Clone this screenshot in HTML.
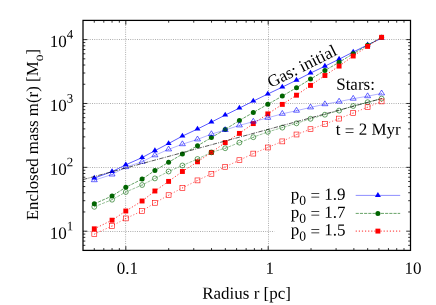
<!DOCTYPE html>
<html><head><meta charset="utf-8"><title>Enclosed mass</title>
<style>html,body{margin:0;padding:0;background:#fff;}svg{display:block;will-change:transform;}text{font-family:"Liberation Serif",serif;fill:#000;text-rendering:geometricPrecision;}</style>
</head><body>
<svg width="436" height="305" viewBox="0 0 436 305">
<rect width="436" height="305" fill="#fff"/>
<g stroke="#939393" stroke-width="0.8" stroke-dasharray="0.95 1.3" fill="none">
<line x1="125.6" y1="20.4" x2="125.6" y2="250.4"/>
<line x1="268.5" y1="20.4" x2="268.5" y2="250.4"/>
<line x1="83.0" y1="231.50" x2="274.5" y2="231.50"/>
<line x1="83.0" y1="167.50" x2="410.5" y2="167.50"/>
<line x1="83.0" y1="103.50" x2="410.5" y2="103.50"/>
<line x1="83.0" y1="39.50" x2="410.5" y2="39.50"/>
</g>
<g stroke="#000" stroke-width="0.8" fill="none">
<line x1="94.27" y1="250.4" x2="94.27" y2="248.1"/>
<line x1="94.27" y1="20.4" x2="94.27" y2="22.7"/>
<line x1="103.80" y1="250.4" x2="103.80" y2="248.1"/>
<line x1="103.80" y1="20.4" x2="103.80" y2="22.7"/>
<line x1="112.05" y1="250.4" x2="112.05" y2="248.1"/>
<line x1="112.05" y1="20.4" x2="112.05" y2="22.7"/>
<line x1="119.33" y1="250.4" x2="119.33" y2="248.1"/>
<line x1="119.33" y1="20.4" x2="119.33" y2="22.7"/>
<line x1="125.84" y1="250.4" x2="125.84" y2="246.1"/>
<line x1="125.84" y1="20.4" x2="125.84" y2="24.7"/>
<line x1="168.69" y1="250.4" x2="168.69" y2="248.1"/>
<line x1="168.69" y1="20.4" x2="168.69" y2="22.7"/>
<line x1="193.75" y1="250.4" x2="193.75" y2="248.1"/>
<line x1="193.75" y1="20.4" x2="193.75" y2="22.7"/>
<line x1="211.53" y1="250.4" x2="211.53" y2="248.1"/>
<line x1="211.53" y1="20.4" x2="211.53" y2="22.7"/>
<line x1="225.33" y1="250.4" x2="225.33" y2="248.1"/>
<line x1="225.33" y1="20.4" x2="225.33" y2="22.7"/>
<line x1="236.60" y1="250.4" x2="236.60" y2="248.1"/>
<line x1="236.60" y1="20.4" x2="236.60" y2="22.7"/>
<line x1="246.13" y1="250.4" x2="246.13" y2="248.1"/>
<line x1="246.13" y1="20.4" x2="246.13" y2="22.7"/>
<line x1="254.38" y1="250.4" x2="254.38" y2="248.1"/>
<line x1="254.38" y1="20.4" x2="254.38" y2="22.7"/>
<line x1="261.66" y1="250.4" x2="261.66" y2="248.1"/>
<line x1="261.66" y1="20.4" x2="261.66" y2="22.7"/>
<line x1="268.17" y1="250.4" x2="268.17" y2="246.1"/>
<line x1="268.17" y1="20.4" x2="268.17" y2="24.7"/>
<line x1="311.02" y1="250.4" x2="311.02" y2="248.1"/>
<line x1="311.02" y1="20.4" x2="311.02" y2="22.7"/>
<line x1="336.08" y1="250.4" x2="336.08" y2="248.1"/>
<line x1="336.08" y1="20.4" x2="336.08" y2="22.7"/>
<line x1="353.86" y1="250.4" x2="353.86" y2="248.1"/>
<line x1="353.86" y1="20.4" x2="353.86" y2="22.7"/>
<line x1="367.66" y1="250.4" x2="367.66" y2="248.1"/>
<line x1="367.66" y1="20.4" x2="367.66" y2="22.7"/>
<line x1="378.92" y1="250.4" x2="378.92" y2="248.1"/>
<line x1="378.92" y1="20.4" x2="378.92" y2="22.7"/>
<line x1="388.45" y1="250.4" x2="388.45" y2="248.1"/>
<line x1="388.45" y1="20.4" x2="388.45" y2="22.7"/>
<line x1="396.71" y1="250.4" x2="396.71" y2="248.1"/>
<line x1="396.71" y1="20.4" x2="396.71" y2="22.7"/>
<line x1="403.99" y1="250.4" x2="403.99" y2="248.1"/>
<line x1="403.99" y1="20.4" x2="403.99" y2="22.7"/>
<line x1="83.0" y1="245.34" x2="85.3" y2="245.34"/>
<line x1="410.5" y1="245.34" x2="408.2" y2="245.34"/>
<line x1="83.0" y1="241.07" x2="85.3" y2="241.07"/>
<line x1="410.5" y1="241.07" x2="408.2" y2="241.07"/>
<line x1="83.0" y1="237.37" x2="85.3" y2="237.37"/>
<line x1="410.5" y1="237.37" x2="408.2" y2="237.37"/>
<line x1="83.0" y1="234.10" x2="85.3" y2="234.10"/>
<line x1="410.5" y1="234.10" x2="408.2" y2="234.10"/>
<line x1="83.0" y1="231.18" x2="87.3" y2="231.18"/>
<line x1="410.5" y1="231.18" x2="406.2" y2="231.18"/>
<line x1="83.0" y1="211.96" x2="85.3" y2="211.96"/>
<line x1="410.5" y1="211.96" x2="408.2" y2="211.96"/>
<line x1="83.0" y1="200.71" x2="85.3" y2="200.71"/>
<line x1="410.5" y1="200.71" x2="408.2" y2="200.71"/>
<line x1="83.0" y1="192.74" x2="85.3" y2="192.74"/>
<line x1="410.5" y1="192.74" x2="408.2" y2="192.74"/>
<line x1="83.0" y1="186.55" x2="85.3" y2="186.55"/>
<line x1="410.5" y1="186.55" x2="408.2" y2="186.55"/>
<line x1="83.0" y1="181.49" x2="85.3" y2="181.49"/>
<line x1="410.5" y1="181.49" x2="408.2" y2="181.49"/>
<line x1="83.0" y1="177.22" x2="85.3" y2="177.22"/>
<line x1="410.5" y1="177.22" x2="408.2" y2="177.22"/>
<line x1="83.0" y1="173.51" x2="85.3" y2="173.51"/>
<line x1="410.5" y1="173.51" x2="408.2" y2="173.51"/>
<line x1="83.0" y1="170.25" x2="85.3" y2="170.25"/>
<line x1="410.5" y1="170.25" x2="408.2" y2="170.25"/>
<line x1="83.0" y1="167.33" x2="87.3" y2="167.33"/>
<line x1="410.5" y1="167.33" x2="406.2" y2="167.33"/>
<line x1="83.0" y1="148.10" x2="85.3" y2="148.10"/>
<line x1="410.5" y1="148.10" x2="408.2" y2="148.10"/>
<line x1="83.0" y1="136.86" x2="85.3" y2="136.86"/>
<line x1="410.5" y1="136.86" x2="408.2" y2="136.86"/>
<line x1="83.0" y1="128.88" x2="85.3" y2="128.88"/>
<line x1="410.5" y1="128.88" x2="408.2" y2="128.88"/>
<line x1="83.0" y1="122.70" x2="85.3" y2="122.70"/>
<line x1="410.5" y1="122.70" x2="408.2" y2="122.70"/>
<line x1="83.0" y1="117.64" x2="85.3" y2="117.64"/>
<line x1="410.5" y1="117.64" x2="408.2" y2="117.64"/>
<line x1="83.0" y1="113.36" x2="85.3" y2="113.36"/>
<line x1="410.5" y1="113.36" x2="408.2" y2="113.36"/>
<line x1="83.0" y1="109.66" x2="85.3" y2="109.66"/>
<line x1="410.5" y1="109.66" x2="408.2" y2="109.66"/>
<line x1="83.0" y1="106.40" x2="85.3" y2="106.40"/>
<line x1="410.5" y1="106.40" x2="408.2" y2="106.40"/>
<line x1="83.0" y1="103.47" x2="87.3" y2="103.47"/>
<line x1="410.5" y1="103.47" x2="406.2" y2="103.47"/>
<line x1="83.0" y1="84.25" x2="85.3" y2="84.25"/>
<line x1="410.5" y1="84.25" x2="408.2" y2="84.25"/>
<line x1="83.0" y1="73.01" x2="85.3" y2="73.01"/>
<line x1="410.5" y1="73.01" x2="408.2" y2="73.01"/>
<line x1="83.0" y1="65.03" x2="85.3" y2="65.03"/>
<line x1="410.5" y1="65.03" x2="408.2" y2="65.03"/>
<line x1="83.0" y1="58.84" x2="85.3" y2="58.84"/>
<line x1="410.5" y1="58.84" x2="408.2" y2="58.84"/>
<line x1="83.0" y1="53.79" x2="85.3" y2="53.79"/>
<line x1="410.5" y1="53.79" x2="408.2" y2="53.79"/>
<line x1="83.0" y1="49.51" x2="85.3" y2="49.51"/>
<line x1="410.5" y1="49.51" x2="408.2" y2="49.51"/>
<line x1="83.0" y1="45.81" x2="85.3" y2="45.81"/>
<line x1="410.5" y1="45.81" x2="408.2" y2="45.81"/>
<line x1="83.0" y1="42.54" x2="85.3" y2="42.54"/>
<line x1="410.5" y1="42.54" x2="408.2" y2="42.54"/>
<line x1="83.0" y1="39.62" x2="87.3" y2="39.62"/>
<line x1="410.5" y1="39.62" x2="406.2" y2="39.62"/>
</g>
<polyline points="94.30,178.10 112.05,171.60 125.80,164.80 142.10,157.60 154.90,150.70 168.60,143.50 182.40,136.10 197.50,129.00 211.40,122.10 225.20,115.10 239.40,108.10 253.30,101.10 267.80,94.00 282.30,87.10 296.50,80.20 310.50,73.10 324.90,66.20 339.10,59.20 353.20,52.00 367.60,44.90 381.60,38.20" fill="none" stroke="#0000ff" stroke-width="0.65" />
<path d="M94.30,174.74 L91.30,179.60 L97.30,179.60 Z" fill="#0000ff"/>
<path d="M112.05,168.24 L109.05,173.10 L115.05,173.10 Z" fill="#0000ff"/>
<path d="M125.80,161.44 L122.80,166.30 L128.80,166.30 Z" fill="#0000ff"/>
<path d="M142.10,154.24 L139.10,159.10 L145.10,159.10 Z" fill="#0000ff"/>
<path d="M154.90,147.34 L151.90,152.20 L157.90,152.20 Z" fill="#0000ff"/>
<path d="M168.60,140.14 L165.60,145.00 L171.60,145.00 Z" fill="#0000ff"/>
<path d="M182.40,132.74 L179.40,137.60 L185.40,137.60 Z" fill="#0000ff"/>
<path d="M197.50,125.64 L194.50,130.50 L200.50,130.50 Z" fill="#0000ff"/>
<path d="M211.40,118.74 L208.40,123.60 L214.40,123.60 Z" fill="#0000ff"/>
<path d="M225.20,111.74 L222.20,116.60 L228.20,116.60 Z" fill="#0000ff"/>
<path d="M239.40,104.74 L236.40,109.60 L242.40,109.60 Z" fill="#0000ff"/>
<path d="M253.30,97.74 L250.30,102.60 L256.30,102.60 Z" fill="#0000ff"/>
<path d="M267.80,90.64 L264.80,95.50 L270.80,95.50 Z" fill="#0000ff"/>
<path d="M282.30,83.74 L279.30,88.60 L285.30,88.60 Z" fill="#0000ff"/>
<path d="M296.50,76.84 L293.50,81.70 L299.50,81.70 Z" fill="#0000ff"/>
<path d="M310.50,69.74 L307.50,74.60 L313.50,74.60 Z" fill="#0000ff"/>
<path d="M324.90,62.84 L321.90,67.70 L327.90,67.70 Z" fill="#0000ff"/>
<path d="M339.10,55.84 L336.10,60.70 L342.10,60.70 Z" fill="#0000ff"/>
<path d="M353.20,48.64 L350.20,53.50 L356.20,53.50 Z" fill="#0000ff"/>
<path d="M367.60,41.54 L364.60,46.40 L370.60,46.40 Z" fill="#0000ff"/>
<path d="M381.60,34.84 L378.60,39.70 L384.60,39.70 Z" fill="#0000ff"/>
<polyline points="94.30,203.80 112.05,196.00 125.80,187.30 142.10,179.10 154.90,170.50 168.60,162.30 182.40,154.10 197.50,145.80 211.40,137.60 225.20,129.40 239.40,120.50 253.30,112.50 267.80,104.30 282.30,96.10 296.50,87.70 310.50,79.10 324.90,70.50 339.10,62.30 353.20,53.70 367.60,45.30 381.60,37.30" fill="none" stroke="#006400" stroke-width="0.6" stroke-dasharray="3.1 1.1"/>
<circle cx="94.30" cy="203.80" r="2.5" fill="#006400"/>
<circle cx="112.05" cy="196.00" r="2.5" fill="#006400"/>
<circle cx="125.80" cy="187.30" r="2.5" fill="#006400"/>
<circle cx="142.10" cy="179.10" r="2.5" fill="#006400"/>
<circle cx="154.90" cy="170.50" r="2.5" fill="#006400"/>
<circle cx="168.60" cy="162.30" r="2.5" fill="#006400"/>
<circle cx="182.40" cy="154.10" r="2.5" fill="#006400"/>
<circle cx="197.50" cy="145.80" r="2.5" fill="#006400"/>
<circle cx="211.40" cy="137.60" r="2.5" fill="#006400"/>
<circle cx="225.20" cy="129.40" r="2.5" fill="#006400"/>
<circle cx="239.40" cy="120.50" r="2.5" fill="#006400"/>
<circle cx="253.30" cy="112.50" r="2.5" fill="#006400"/>
<circle cx="267.80" cy="104.30" r="2.5" fill="#006400"/>
<circle cx="282.30" cy="96.10" r="2.5" fill="#006400"/>
<circle cx="296.50" cy="87.70" r="2.5" fill="#006400"/>
<circle cx="310.50" cy="79.10" r="2.5" fill="#006400"/>
<circle cx="324.90" cy="70.50" r="2.5" fill="#006400"/>
<circle cx="339.10" cy="62.30" r="2.5" fill="#006400"/>
<circle cx="353.20" cy="53.70" r="2.5" fill="#006400"/>
<circle cx="367.60" cy="45.30" r="2.5" fill="#006400"/>
<circle cx="381.60" cy="37.30" r="2.5" fill="#006400"/>
<polyline points="94.30,228.80 112.05,220.20 125.80,211.00 142.10,201.00 154.90,191.00 168.60,181.40 182.40,171.50 197.50,161.80 211.40,152.40 225.20,142.60 239.40,133.40 253.30,123.60 267.80,113.90 282.30,104.40 296.50,95.20 310.50,85.40 324.90,75.50 339.10,66.10 353.20,56.00 367.60,46.40 381.60,37.30" fill="none" stroke="#ff0000" stroke-width="0.8" stroke-dasharray="1.2 1.9"/>
<rect x="91.85" y="226.35" width="4.9" height="4.9" fill="#ff0000"/>
<rect x="109.60" y="217.75" width="4.9" height="4.9" fill="#ff0000"/>
<rect x="123.35" y="208.55" width="4.9" height="4.9" fill="#ff0000"/>
<rect x="139.65" y="198.55" width="4.9" height="4.9" fill="#ff0000"/>
<rect x="152.45" y="188.55" width="4.9" height="4.9" fill="#ff0000"/>
<rect x="166.15" y="178.95" width="4.9" height="4.9" fill="#ff0000"/>
<rect x="179.95" y="169.05" width="4.9" height="4.9" fill="#ff0000"/>
<rect x="195.05" y="159.35" width="4.9" height="4.9" fill="#ff0000"/>
<rect x="208.95" y="149.95" width="4.9" height="4.9" fill="#ff0000"/>
<rect x="222.75" y="140.15" width="4.9" height="4.9" fill="#ff0000"/>
<rect x="236.95" y="130.95" width="4.9" height="4.9" fill="#ff0000"/>
<rect x="250.85" y="121.15" width="4.9" height="4.9" fill="#ff0000"/>
<rect x="265.35" y="111.45" width="4.9" height="4.9" fill="#ff0000"/>
<rect x="279.85" y="101.95" width="4.9" height="4.9" fill="#ff0000"/>
<rect x="294.05" y="92.75" width="4.9" height="4.9" fill="#ff0000"/>
<rect x="308.05" y="82.95" width="4.9" height="4.9" fill="#ff0000"/>
<rect x="322.45" y="73.05" width="4.9" height="4.9" fill="#ff0000"/>
<rect x="336.65" y="63.65" width="4.9" height="4.9" fill="#ff0000"/>
<rect x="350.75" y="53.55" width="4.9" height="4.9" fill="#ff0000"/>
<rect x="365.15" y="43.95" width="4.9" height="4.9" fill="#ff0000"/>
<rect x="379.15" y="34.85" width="4.9" height="4.9" fill="#ff0000"/>
<polyline points="94.30,180.20 112.05,174.50 125.80,167.10 142.10,161.80 154.90,155.30 168.60,149.40 182.40,144.20 197.50,139.40 211.40,134.10 225.20,130.00 239.40,125.40 253.30,121.60 267.80,117.80 282.30,113.80 296.50,110.70 310.50,107.40 324.90,104.20 339.10,101.60 353.20,98.70 367.60,96.20 381.60,93.40" fill="none" stroke="#0000ff" stroke-width="0.3" />
<path d="M94.30,176.84 L91.30,181.70 L97.30,181.70 Z" fill="none" stroke="#0000ff" stroke-width="0.6"/><circle cx="94.30" cy="180.20" r="0.42" fill="#0000ff"/>
<path d="M112.05,171.14 L109.05,176.00 L115.05,176.00 Z" fill="none" stroke="#0000ff" stroke-width="0.6"/><circle cx="112.05" cy="174.50" r="0.42" fill="#0000ff"/>
<path d="M125.80,163.74 L122.80,168.60 L128.80,168.60 Z" fill="none" stroke="#0000ff" stroke-width="0.6"/><circle cx="125.80" cy="167.10" r="0.42" fill="#0000ff"/>
<path d="M142.10,158.44 L139.10,163.30 L145.10,163.30 Z" fill="none" stroke="#0000ff" stroke-width="0.6"/><circle cx="142.10" cy="161.80" r="0.42" fill="#0000ff"/>
<path d="M154.90,151.94 L151.90,156.80 L157.90,156.80 Z" fill="none" stroke="#0000ff" stroke-width="0.6"/><circle cx="154.90" cy="155.30" r="0.42" fill="#0000ff"/>
<path d="M168.60,146.04 L165.60,150.90 L171.60,150.90 Z" fill="none" stroke="#0000ff" stroke-width="0.6"/><circle cx="168.60" cy="149.40" r="0.42" fill="#0000ff"/>
<path d="M182.40,140.84 L179.40,145.70 L185.40,145.70 Z" fill="none" stroke="#0000ff" stroke-width="0.6"/><circle cx="182.40" cy="144.20" r="0.42" fill="#0000ff"/>
<path d="M197.50,136.04 L194.50,140.90 L200.50,140.90 Z" fill="none" stroke="#0000ff" stroke-width="0.6"/><circle cx="197.50" cy="139.40" r="0.42" fill="#0000ff"/>
<path d="M211.40,130.74 L208.40,135.60 L214.40,135.60 Z" fill="none" stroke="#0000ff" stroke-width="0.6"/><circle cx="211.40" cy="134.10" r="0.42" fill="#0000ff"/>
<path d="M225.20,126.64 L222.20,131.50 L228.20,131.50 Z" fill="none" stroke="#0000ff" stroke-width="0.6"/><circle cx="225.20" cy="130.00" r="0.42" fill="#0000ff"/>
<path d="M239.40,122.04 L236.40,126.90 L242.40,126.90 Z" fill="none" stroke="#0000ff" stroke-width="0.6"/><circle cx="239.40" cy="125.40" r="0.42" fill="#0000ff"/>
<path d="M253.30,118.24 L250.30,123.10 L256.30,123.10 Z" fill="none" stroke="#0000ff" stroke-width="0.6"/><circle cx="253.30" cy="121.60" r="0.42" fill="#0000ff"/>
<path d="M267.80,114.44 L264.80,119.30 L270.80,119.30 Z" fill="none" stroke="#0000ff" stroke-width="0.6"/><circle cx="267.80" cy="117.80" r="0.42" fill="#0000ff"/>
<path d="M282.30,110.44 L279.30,115.30 L285.30,115.30 Z" fill="none" stroke="#0000ff" stroke-width="0.6"/><circle cx="282.30" cy="113.80" r="0.42" fill="#0000ff"/>
<path d="M296.50,107.34 L293.50,112.20 L299.50,112.20 Z" fill="none" stroke="#0000ff" stroke-width="0.6"/><circle cx="296.50" cy="110.70" r="0.42" fill="#0000ff"/>
<path d="M310.50,104.04 L307.50,108.90 L313.50,108.90 Z" fill="none" stroke="#0000ff" stroke-width="0.6"/><circle cx="310.50" cy="107.40" r="0.42" fill="#0000ff"/>
<path d="M324.90,100.84 L321.90,105.70 L327.90,105.70 Z" fill="none" stroke="#0000ff" stroke-width="0.6"/><circle cx="324.90" cy="104.20" r="0.42" fill="#0000ff"/>
<path d="M339.10,98.24 L336.10,103.10 L342.10,103.10 Z" fill="none" stroke="#0000ff" stroke-width="0.6"/><circle cx="339.10" cy="101.60" r="0.42" fill="#0000ff"/>
<path d="M353.20,95.34 L350.20,100.20 L356.20,100.20 Z" fill="none" stroke="#0000ff" stroke-width="0.6"/><circle cx="353.20" cy="98.70" r="0.42" fill="#0000ff"/>
<path d="M367.60,92.84 L364.60,97.70 L370.60,97.70 Z" fill="none" stroke="#0000ff" stroke-width="0.6"/><circle cx="367.60" cy="96.20" r="0.42" fill="#0000ff"/>
<path d="M381.60,90.04 L378.60,94.90 L384.60,94.90 Z" fill="none" stroke="#0000ff" stroke-width="0.6"/><circle cx="381.60" cy="93.40" r="0.42" fill="#0000ff"/>
<polyline points="94.30,206.80 112.05,199.70 125.80,192.00 142.10,185.00 154.90,178.40 168.60,171.50 182.40,165.50 197.50,159.00 211.40,152.40 225.20,148.20 239.40,142.60 253.30,137.20 267.80,131.90 282.30,127.60 296.50,123.30 310.50,118.80 324.90,114.70 339.10,110.60 353.20,106.00 367.60,102.20 381.60,98.60" fill="none" stroke="#006400" stroke-width="0.4" stroke-dasharray="3.1 1.1"/>
<circle cx="94.30" cy="206.80" r="2.45" fill="none" stroke="#006400" stroke-width="0.6"/><circle cx="94.30" cy="206.80" r="0.42" fill="#006400"/>
<circle cx="112.05" cy="199.70" r="2.45" fill="none" stroke="#006400" stroke-width="0.6"/><circle cx="112.05" cy="199.70" r="0.42" fill="#006400"/>
<circle cx="125.80" cy="192.00" r="2.45" fill="none" stroke="#006400" stroke-width="0.6"/><circle cx="125.80" cy="192.00" r="0.42" fill="#006400"/>
<circle cx="142.10" cy="185.00" r="2.45" fill="none" stroke="#006400" stroke-width="0.6"/><circle cx="142.10" cy="185.00" r="0.42" fill="#006400"/>
<circle cx="154.90" cy="178.40" r="2.45" fill="none" stroke="#006400" stroke-width="0.6"/><circle cx="154.90" cy="178.40" r="0.42" fill="#006400"/>
<circle cx="168.60" cy="171.50" r="2.45" fill="none" stroke="#006400" stroke-width="0.6"/><circle cx="168.60" cy="171.50" r="0.42" fill="#006400"/>
<circle cx="182.40" cy="165.50" r="2.45" fill="none" stroke="#006400" stroke-width="0.6"/><circle cx="182.40" cy="165.50" r="0.42" fill="#006400"/>
<circle cx="197.50" cy="159.00" r="2.45" fill="none" stroke="#006400" stroke-width="0.6"/><circle cx="197.50" cy="159.00" r="0.42" fill="#006400"/>
<circle cx="211.40" cy="152.40" r="2.45" fill="none" stroke="#006400" stroke-width="0.6"/><circle cx="211.40" cy="152.40" r="0.42" fill="#006400"/>
<circle cx="225.20" cy="148.20" r="2.45" fill="none" stroke="#006400" stroke-width="0.6"/><circle cx="225.20" cy="148.20" r="0.42" fill="#006400"/>
<circle cx="239.40" cy="142.60" r="2.45" fill="none" stroke="#006400" stroke-width="0.6"/><circle cx="239.40" cy="142.60" r="0.42" fill="#006400"/>
<circle cx="253.30" cy="137.20" r="2.45" fill="none" stroke="#006400" stroke-width="0.6"/><circle cx="253.30" cy="137.20" r="0.42" fill="#006400"/>
<circle cx="267.80" cy="131.90" r="2.45" fill="none" stroke="#006400" stroke-width="0.6"/><circle cx="267.80" cy="131.90" r="0.42" fill="#006400"/>
<circle cx="282.30" cy="127.60" r="2.45" fill="none" stroke="#006400" stroke-width="0.6"/><circle cx="282.30" cy="127.60" r="0.42" fill="#006400"/>
<circle cx="296.50" cy="123.30" r="2.45" fill="none" stroke="#006400" stroke-width="0.6"/><circle cx="296.50" cy="123.30" r="0.42" fill="#006400"/>
<circle cx="310.50" cy="118.80" r="2.45" fill="none" stroke="#006400" stroke-width="0.6"/><circle cx="310.50" cy="118.80" r="0.42" fill="#006400"/>
<circle cx="324.90" cy="114.70" r="2.45" fill="none" stroke="#006400" stroke-width="0.6"/><circle cx="324.90" cy="114.70" r="0.42" fill="#006400"/>
<circle cx="339.10" cy="110.60" r="2.45" fill="none" stroke="#006400" stroke-width="0.6"/><circle cx="339.10" cy="110.60" r="0.42" fill="#006400"/>
<circle cx="353.20" cy="106.00" r="2.45" fill="none" stroke="#006400" stroke-width="0.6"/><circle cx="353.20" cy="106.00" r="0.42" fill="#006400"/>
<circle cx="367.60" cy="102.20" r="2.45" fill="none" stroke="#006400" stroke-width="0.6"/><circle cx="367.60" cy="102.20" r="0.42" fill="#006400"/>
<circle cx="381.60" cy="98.60" r="2.45" fill="none" stroke="#006400" stroke-width="0.6"/><circle cx="381.60" cy="98.60" r="0.42" fill="#006400"/>
<polyline points="94.30,234.10 112.05,226.00 125.80,218.40 142.10,211.00 154.90,202.80 168.60,195.20 182.40,187.90 197.50,180.40 211.40,173.80 225.20,166.80 239.40,160.20 253.30,153.60 267.80,147.50 282.30,141.40 296.50,134.50 310.50,129.20 324.90,124.10 339.10,118.60 353.20,113.00 367.60,107.20 381.60,101.40" fill="none" stroke="#ff0000" stroke-width="0.6" stroke-dasharray="1.2 1.9"/>
<rect x="91.85" y="231.65" width="4.9" height="4.9" fill="none" stroke="#ff0000" stroke-width="0.6"/><circle cx="94.30" cy="234.10" r="0.42" fill="#ff0000"/>
<rect x="109.60" y="223.55" width="4.9" height="4.9" fill="none" stroke="#ff0000" stroke-width="0.6"/><circle cx="112.05" cy="226.00" r="0.42" fill="#ff0000"/>
<rect x="123.35" y="215.95" width="4.9" height="4.9" fill="none" stroke="#ff0000" stroke-width="0.6"/><circle cx="125.80" cy="218.40" r="0.42" fill="#ff0000"/>
<rect x="139.65" y="208.55" width="4.9" height="4.9" fill="none" stroke="#ff0000" stroke-width="0.6"/><circle cx="142.10" cy="211.00" r="0.42" fill="#ff0000"/>
<rect x="152.45" y="200.35" width="4.9" height="4.9" fill="none" stroke="#ff0000" stroke-width="0.6"/><circle cx="154.90" cy="202.80" r="0.42" fill="#ff0000"/>
<rect x="166.15" y="192.75" width="4.9" height="4.9" fill="none" stroke="#ff0000" stroke-width="0.6"/><circle cx="168.60" cy="195.20" r="0.42" fill="#ff0000"/>
<rect x="179.95" y="185.45" width="4.9" height="4.9" fill="none" stroke="#ff0000" stroke-width="0.6"/><circle cx="182.40" cy="187.90" r="0.42" fill="#ff0000"/>
<rect x="195.05" y="177.95" width="4.9" height="4.9" fill="none" stroke="#ff0000" stroke-width="0.6"/><circle cx="197.50" cy="180.40" r="0.42" fill="#ff0000"/>
<rect x="208.95" y="171.35" width="4.9" height="4.9" fill="none" stroke="#ff0000" stroke-width="0.6"/><circle cx="211.40" cy="173.80" r="0.42" fill="#ff0000"/>
<rect x="222.75" y="164.35" width="4.9" height="4.9" fill="none" stroke="#ff0000" stroke-width="0.6"/><circle cx="225.20" cy="166.80" r="0.42" fill="#ff0000"/>
<rect x="236.95" y="157.75" width="4.9" height="4.9" fill="none" stroke="#ff0000" stroke-width="0.6"/><circle cx="239.40" cy="160.20" r="0.42" fill="#ff0000"/>
<rect x="250.85" y="151.15" width="4.9" height="4.9" fill="none" stroke="#ff0000" stroke-width="0.6"/><circle cx="253.30" cy="153.60" r="0.42" fill="#ff0000"/>
<rect x="265.35" y="145.05" width="4.9" height="4.9" fill="none" stroke="#ff0000" stroke-width="0.6"/><circle cx="267.80" cy="147.50" r="0.42" fill="#ff0000"/>
<rect x="279.85" y="138.95" width="4.9" height="4.9" fill="none" stroke="#ff0000" stroke-width="0.6"/><circle cx="282.30" cy="141.40" r="0.42" fill="#ff0000"/>
<rect x="294.05" y="132.05" width="4.9" height="4.9" fill="none" stroke="#ff0000" stroke-width="0.6"/><circle cx="296.50" cy="134.50" r="0.42" fill="#ff0000"/>
<rect x="308.05" y="126.75" width="4.9" height="4.9" fill="none" stroke="#ff0000" stroke-width="0.6"/><circle cx="310.50" cy="129.20" r="0.42" fill="#ff0000"/>
<rect x="322.45" y="121.65" width="4.9" height="4.9" fill="none" stroke="#ff0000" stroke-width="0.6"/><circle cx="324.90" cy="124.10" r="0.42" fill="#ff0000"/>
<rect x="336.65" y="116.15" width="4.9" height="4.9" fill="none" stroke="#ff0000" stroke-width="0.6"/><circle cx="339.10" cy="118.60" r="0.42" fill="#ff0000"/>
<rect x="350.75" y="110.55" width="4.9" height="4.9" fill="none" stroke="#ff0000" stroke-width="0.6"/><circle cx="353.20" cy="113.00" r="0.42" fill="#ff0000"/>
<rect x="365.15" y="104.75" width="4.9" height="4.9" fill="none" stroke="#ff0000" stroke-width="0.6"/><circle cx="367.60" cy="107.20" r="0.42" fill="#ff0000"/>
<rect x="379.15" y="98.95" width="4.9" height="4.9" fill="none" stroke="#ff0000" stroke-width="0.6"/><circle cx="381.60" cy="101.40" r="0.42" fill="#ff0000"/>
<line x1="83.0" y1="179.6" x2="381.6" y2="98.6" stroke="#000" stroke-width="0.65" stroke-dasharray="4.5 1.2 1 1.2"/>
<rect x="83.0" y="20.4" width="327.5" height="230.0" fill="none" stroke="#000" stroke-width="1.25"/>
<line x1="355.7" y1="195.4" x2="400.2" y2="195.4" stroke="#0000ff" stroke-width="0.45" />
<path d="M377.90,192.04 L374.90,196.90 L380.90,196.90 Z" fill="#0000ff"/>
<text x="345.50" y="199.70" transform="rotate(0.05 345.50 199.70)" font-size="17.0" text-anchor="end">p<tspan font-size="13.60" dy="5.10">0</tspan><tspan dy="-3.70"> = </tspan><tspan dy="-1.4">1.9</tspan></text>
<line x1="355.7" y1="213.4" x2="400.2" y2="213.4" stroke="#006400" stroke-width="0.6" stroke-dasharray="3.1 1.1"/>
<circle cx="377.90" cy="213.40" r="2.5" fill="#006400"/>
<text x="345.50" y="217.70" transform="rotate(0.05 345.50 217.70)" font-size="17.0" text-anchor="end">p<tspan font-size="13.60" dy="5.10">0</tspan><tspan dy="-3.70"> = </tspan><tspan dy="-1.4">1.7</tspan></text>
<line x1="355.7" y1="231.1" x2="400.2" y2="231.1" stroke="#ff0000" stroke-width="0.85" stroke-dasharray="1.2 1.9"/>
<rect x="375.45" y="228.65" width="4.9" height="4.9" fill="#ff0000"/>
<text x="345.50" y="235.40" transform="rotate(0.05 345.50 235.40)" font-size="17.0" text-anchor="end">p<tspan font-size="13.60" dy="5.10">0</tspan><tspan dy="-3.70"> = </tspan><tspan dy="-1.4">1.5</tspan></text>
<text x="127.44" y="273.70" transform="rotate(0.05 127.44 273.70)" font-size="17.0" text-anchor="middle">0.1</text>
<text x="269.87" y="273.70" transform="rotate(0.05 269.87 273.70)" font-size="17.0" text-anchor="middle">1</text>
<text x="412.90" y="273.70" transform="rotate(0.05 412.90 273.70)" font-size="17.0" text-anchor="middle">10</text>
<text x="73.20" y="238.68" transform="rotate(0.05 73.20 238.68)" font-size="17.0" text-anchor="end">10<tspan font-size="12.92" dy="-8.50">1</tspan></text>
<text x="73.20" y="174.83" transform="rotate(0.05 73.20 174.83)" font-size="17.0" text-anchor="end">10<tspan font-size="12.92" dy="-8.50">2</tspan></text>
<text x="73.20" y="110.97" transform="rotate(0.05 73.20 110.97)" font-size="17.0" text-anchor="end">10<tspan font-size="12.92" dy="-8.50">3</tspan></text>
<text x="73.20" y="47.12" transform="rotate(0.05 73.20 47.12)" font-size="17.0" text-anchor="end">10<tspan font-size="12.92" dy="-8.50">4</tspan></text>
<text x="246.60" y="298.80" transform="rotate(0.05 246.60 298.80)" font-size="17.0" text-anchor="middle">Radius r [pc]</text>
<text transform="translate(37.7,134.6) rotate(-90)" font-size="16.9" text-anchor="middle">Enclosed mass m(r) [M<tspan font-size="13.60" dy="5.10">o</tspan><tspan dy="-5.10">]</tspan></text>
<text transform="translate(270.8,88.0) rotate(-26.5)" font-size="17.0">Gas: initial</text>
<text x="336.20" y="89.80" transform="rotate(0.05 336.20 89.80)" font-size="17.0">Stars:</text>
<text x="335.80" y="134.80" transform="rotate(0.05 335.80 134.80)" font-size="17.0">t<tspan dy="1.4"> = </tspan><tspan dy="-1.4">2 Myr</tspan></text>
</svg></body></html>
